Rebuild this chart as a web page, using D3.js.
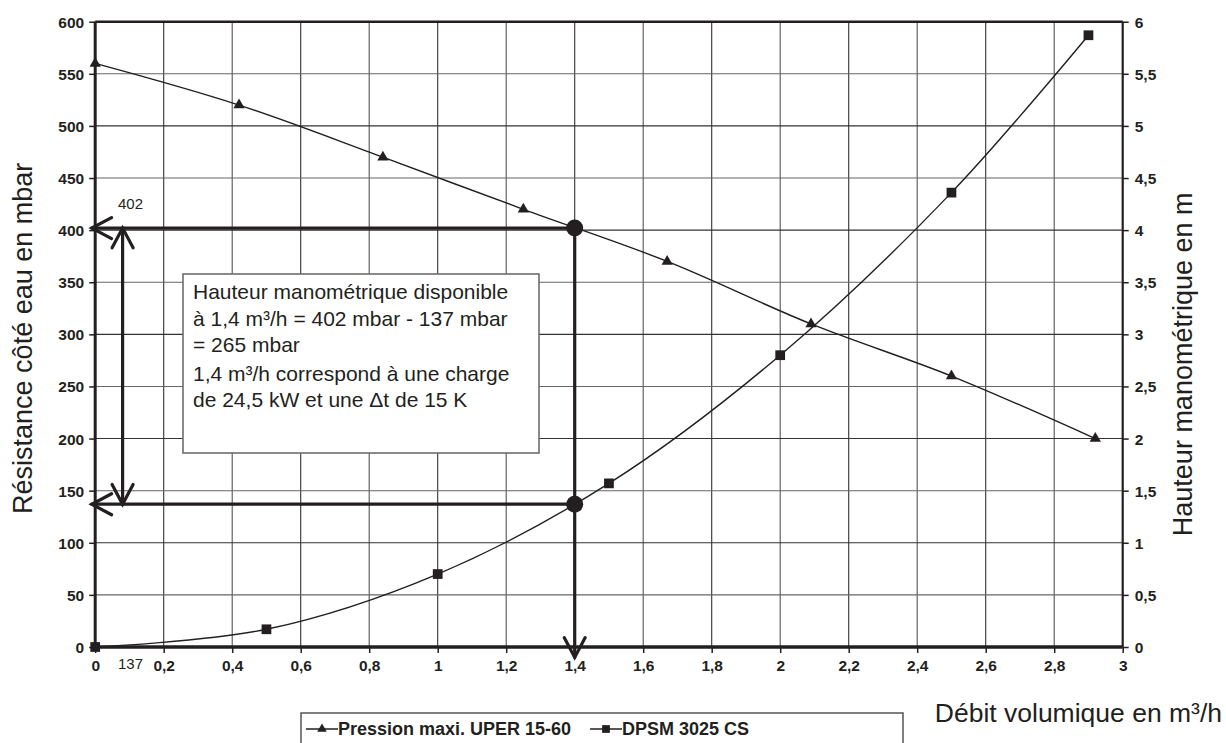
<!DOCTYPE html>
<html><head><meta charset="utf-8">
<script src="https://cdn.jsdelivr.net/npm/d3@7"></script>
<style>
body{margin:0;background:#fff}
svg{display:block}
text{font-family:"Liberation Sans",Arial,Helvetica,sans-serif;fill:#231f20}
</style>
</head><body>
<svg id="c" width="1226" height="743"></svg>
<script>
// ---- data ----
const xTicks = [0,0.2,0.4,0.6,0.8,1,1.2,1.4,1.6,1.8,2,2.2,2.4,2.6,2.8,3];
const xTickLabels = ["0","0,2","0,4","0,6","0,8","1","1,2","1,4","1,6","1,8","2","2,2","2,4","2,6","2,8","3"];
const yLeftTicks = [0,50,100,150,200,250,300,350,400,450,500,550,600];
const yRightTickLabels = ["0","0,5","1","1,5","2","2,5","3","3,5","4","4,5","5","5,5","6"];
const pressionFlow = [0,0.42,0.84,1.25,1.67,2.09,2.5,2.92];
const pressionMbar = [560,520,470,420,370,310,260,200];
const dpsmFlow = [0,0.5,1,1.5,2,2.5,2.9];
const dpsmMbar = [0,17,70,157,280,436,587];
const workFlow = 1.4;
const workTop = 402;
const workBottom = 137;
const boxLines = ["Hauteur manométrique disponible","à 1,4 m³/h = 402 mbar - 137 mbar","= 265 mbar","1,4 m³/h correspond à une charge","de 24,5 kW et une Δt de 15 K"];
const seriesNames = ["Pression maxi. UPER 15-60","DPSM 3025 CS"];

// ---- layout ----
const svg = d3.select("#c");
const ink = "#231f20";
const x = d3.scaleLinear().domain([0,3]).range([95.2,1122.7]);
const y = d3.scaleLinear().domain([0,600]).range([647,21.7]);

// grid
const grid = svg.append("g");
grid.selectAll("line.v").data(xTicks.slice(1,-1)).join("line")
  .attr("x1",d=>x(d)).attr("x2",d=>x(d)).attr("y1",y(0)).attr("y2",y(600))
  .attr("stroke",(d,i)=>i%2?"#555":"#333").attr("stroke-width",1.1);
grid.selectAll("line.h").data(yLeftTicks.slice(1,-1)).join("line")
  .attr("x1",x(0)).attr("x2",x(3)).attr("y1",d=>y(d)).attr("y2",d=>y(d))
  .attr("stroke",(d,i)=>i%2?"#333":"#666").attr("stroke-width",1.1);

// axes
const fmtX = d=>xTickLabels[xTicks.indexOf(d)];
const gx = svg.append("g").attr("transform",`translate(0,${y(0)})`)
  .call(d3.axisBottom(x).tickValues(xTicks).tickFormat(fmtX).tickSize(6).tickPadding(7));
const gl = svg.append("g").attr("transform",`translate(${x(0)},0)`)
  .call(d3.axisLeft(y).tickValues(yLeftTicks).tickSize(6).tickPadding(5));
const gr = svg.append("g").attr("transform",`translate(${x(3)},0)`)
  .call(d3.axisRight(y).tickValues(yLeftTicks).tickFormat((d,i)=>yRightTickLabels[i]).tickSize(6).tickPadding(6));
[gx,gl,gr].forEach(g=>{
  g.selectAll("path.domain").attr("stroke",ink);
  g.selectAll(".tick line").attr("stroke",ink).attr("stroke-width",1.5);
  g.selectAll(".tick text").attr("font-size",15.5).attr("font-weight","bold")
    .attr("font-family",'"Liberation Sans",Arial,sans-serif').attr("fill",ink);
});
gx.select("path.domain").attr("stroke-width",3.5).attr("d",`M${x(0)-1.5},0H${x(3)}`);
gl.select("path.domain").attr("stroke-width",3).attr("d",`M0,${y(0)}V${y(600)}`);
gr.select("path.domain").attr("stroke-width",2.2).attr("d",`M0,${y(0)}V${y(600)}`);
gl.selectAll(".tick text").attr("dy","0.35em");
gr.selectAll(".tick text").attr("dy","0.35em");
svg.append("line").attr("x1",x(0)).attr("x2",x(3)).attr("y1",y(600)).attr("y2",y(600))
  .attr("stroke",ink).attr("stroke-width",2.5);

// series
const line = d3.line().x(d=>x(d[0])).y(d=>y(d[1])).curve(d3.curveCatmullRom.alpha(0.5));
const pData = pressionFlow.map((f,i)=>[f,pressionMbar[i]]);
const dData = dpsmFlow.map((f,i)=>[f,dpsmMbar[i]]);
svg.append("path").attr("d",line(pData)).attr("fill","none").attr("stroke",ink).attr("stroke-width",1.4);
svg.append("path").attr("d",line(dData)).attr("fill","none").attr("stroke",ink).attr("stroke-width",1.4);
const tri = d3.symbol().type(d3.symbolTriangle).size(55);
const sq = d3.symbol().type(d3.symbolSquare).size(95);
svg.selectAll("path.tri").data(pData).join("path").attr("class","tri")
  .attr("d",tri).attr("transform",d=>`translate(${x(d[0])},${y(d[1])})`).attr("fill",ink);
svg.selectAll("path.sq").data(dData).join("path").attr("class","sq")
  .attr("d",sq).attr("transform",d=>`translate(${x(d[0])},${y(d[1])})`).attr("fill",ink);

// annotation box
svg.append("rect").attr("x",183).attr("y",274).attr("width",356).attr("height",179)
  .attr("fill","#fff").attr("stroke","#6d6d6d").attr("stroke-width",1.6);
const bt = svg.append("text").attr("font-size",21);
const baseY = [299,326,352,381,407];
boxLines.forEach((t,i)=>bt.append("tspan").attr("x",193).attr("y",baseY[i]).text(t));

// working point arrows
const thick = 3.2;
const ann = svg.append("g").attr("stroke",ink).attr("stroke-width",thick).attr("fill","none").attr("stroke-linecap","round");
function arrowHead(tipX,tipY,dirX,dirY){
  const L=22, W=10.5;
  const bx = tipX - dirX*L*0.9, by = tipY - dirY*L*0.9;
  const px = -dirY, py = dirX;
  ann.append("path").attr("d",`M${bx+px*W},${by+py*W}L${tipX},${tipY}L${bx-px*W},${by-py*W}`)
    .attr("stroke-linejoin","miter");
}
const xl = x(-0.01), xa = x(0.08), xw = x(workFlow);
ann.append("line").attr("x1",xw).attr("x2",xl).attr("y1",y(workTop)).attr("y2",y(workTop));
ann.append("line").attr("x1",xw).attr("x2",xl).attr("y1",y(workBottom)).attr("y2",y(workBottom));
ann.append("line").attr("x1",xw).attr("x2",xw).attr("y1",y(workTop)).attr("y2",y(-10));
ann.append("line").attr("x1",xa).attr("x2",xa).attr("y1",y(workTop)).attr("y2",y(workBottom));
arrowHead(xl,y(workTop),-1,0);
arrowHead(xl,y(workBottom),-1,0);
arrowHead(xa,y(workTop),0,-1);
arrowHead(xa,y(workBottom),0,1);
arrowHead(xw,y(-10),0,1);
svg.selectAll("circle.wp").data([workTop,workBottom]).join("circle")
  .attr("cx",xw).attr("cy",d=>y(d)).attr("r",8.5).attr("fill",ink);
svg.append("text").attr("x",118).attr("y",209).attr("font-size",15).text(String(workTop));
svg.append("text").attr("x",118).attr("y",669).attr("font-size",15).text(String(workBottom));

// axis titles
svg.append("text").attr("transform",`translate(32,${(y(0)+y(600))/2+4}) rotate(-90)`)
  .attr("text-anchor","middle").attr("font-size",27).text("Résistance côté eau en mbar");
svg.append("text").attr("transform",`translate(1192,${(y(0)+y(600))/2+30}) rotate(-90)`)
  .attr("text-anchor","middle").attr("font-size",27).text("Hauteur manométrique en m");
svg.append("text").attr("x",1222).attr("y",722).attr("text-anchor","end")
  .attr("font-size",26.5).text("Débit volumique en m³/h");

// legend
const lg = svg.append("g");
lg.append("rect").attr("x",301).attr("y",713).attr("width",602).attr("height",45)
  .attr("fill","#fff").attr("stroke","#555").attr("stroke-width",1.5);
const items = [{x:306,sym:"tri",name:seriesNames[0]},{x:590,sym:"sq",name:seriesNames[1]}];
items.forEach(it=>{
  lg.append("line").attr("x1",it.x).attr("x2",it.x+32).attr("y1",729).attr("y2",729).attr("stroke",ink).attr("stroke-width",1.5);
  lg.append("path").attr("d",it.sym==="tri"?d3.symbol().type(d3.symbolTriangle).size(40)():d3.symbol().type(d3.symbolSquare).size(60)())
    .attr("transform",`translate(${it.x+16},729)`).attr("fill",ink);
  lg.append("text").attr("x",it.x+32).attr("y",735).attr("font-size",18).attr("font-weight","bold").text(it.name);
});
</script>
</body></html>
